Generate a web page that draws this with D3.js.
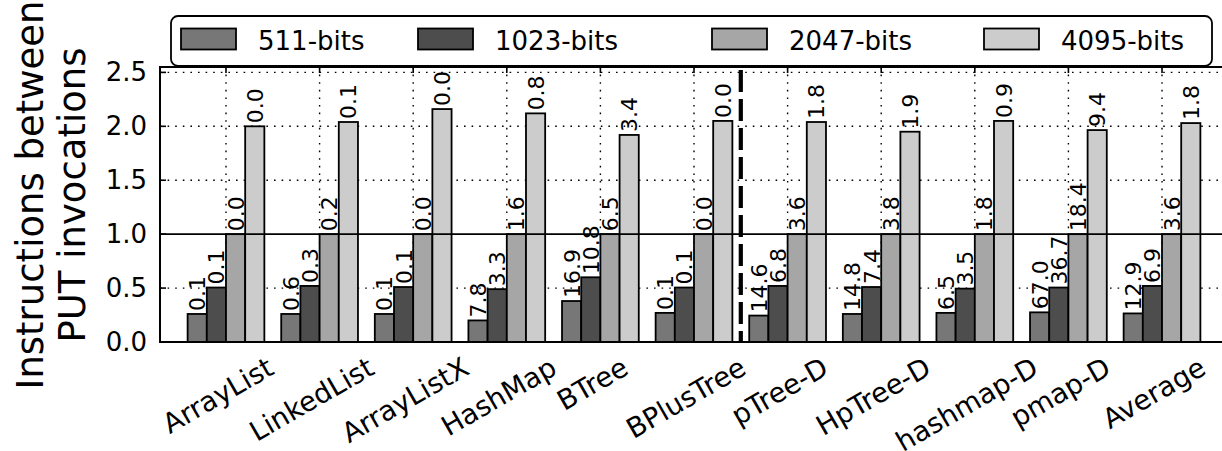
<!DOCTYPE html>
<html>
<head>
<meta charset="utf-8">
<script src="https://cdn.jsdelivr.net/npm/d3@7"></script>
<style>
  html, body { margin: 0; padding: 0; background: #fff; }
  svg { display: block; font-family: "DejaVu Sans", sans-serif; }
</style>
</head>
<body>
<svg id="chart" width="1222" height="451"></svg>
<script>
// Benchmarks on the x axis
const categories = ["ArrayList", "LinkedList", "ArrayListX", "HashMap", "BTree",
  "BPlusTree", "pTree-D", "HpTree-D", "hashmap-D", "pmap-D", "Average"];

// Key sizes (legend entries)
const seriesNames = ["511-bits", "1023-bits", "2047-bits", "4095-bits"];

// Normalised instructions between PUT invocations, per key size
const bits511  = [0.26, 0.26, 0.26, 0.20, 0.38, 0.27, 0.245, 0.26, 0.27, 0.275, 0.265];
const bits1023 = [0.505, 0.52, 0.51, 0.49, 0.60, 0.505, 0.52, 0.51, 0.495, 0.505, 0.52];
const bits2047 = [1.0, 1.0, 1.0, 1.0, 1.0, 1.0, 1.0, 1.0, 1.0, 1.0, 1.0];
const bits4095 = [2.0, 2.04, 2.16, 2.12, 1.92, 2.05, 2.04, 1.95, 2.05, 1.965, 2.03];

// Annotation printed above each bar
const labels511  = ["0.1", "0.6", "0.1", "7.8", "16.9", "0.1", "14.6", "14.8", "6.5", "67.0", "12.9"];
const labels1023 = ["0.1", "0.3", "0.1", "3.3", "10.8", "0.1", "6.8", "7.4", "3.5", "36.7", "6.9"];
const labels2047 = ["0.0", "0.2", "0.0", "1.6", "6.5", "0.0", "3.6", "3.8", "1.8", "18.4", "3.6"];
const labels4095 = ["0.0", "0.1", "0.0", "0.8", "3.4", "0.0", "1.8", "1.9", "0.9", "9.4", "1.8"];

const yTicks = [0.0, 0.5, 1.0, 1.5, 2.0, 2.5];
const yTitle = ["Instructions between", "PUT invocations"];

const series = [bits511, bits1023, bits2047, bits4095];
const seriesLabels = [labels511, labels1023, labels2047, labels4095];
const colors = ["#777777", "#4d4d4d", "#a6a6a6", "#cccccc"];

const svg = d3.select("#chart");
const pL = 160, pR = 1228, pT = 67, pB = 342;

const x = d3.scaleLinear().domain([-0.705, categories.length - 1 + 0.705]).range([pL, pR]);
const y = d3.scaleLinear().domain([0, 2.55]).range([pB, pT]);
const barW = 0.205;
const unit = x(1) - x(0);

// grid (behind the bars)
const grid = svg.append("g").attr("stroke", "#000").attr("stroke-width", 1.4)
  .attr("stroke-dasharray", "1.6,6");
grid.selectAll("line.h").data(yTicks.filter(t => t !== 0 && t !== 1))
  .join("line").attr("class", "h")
  .attr("x1", pL).attr("x2", pR)
  .attr("y1", d => y(d)).attr("y2", d => y(d));
grid.selectAll("line.v").data(categories.map((c, i) => i))
  .join("line").attr("class", "v")
  .attr("x1", d => x(d)).attr("x2", d => x(d))
  .attr("y1", pT).attr("y2", pB);

// bars
series.forEach((vals, s) => {
  const g = svg.append("g");
  g.selectAll("rect").data(vals).join("rect")
    .attr("x", (d, i) => x(i + (s - 2) * barW))
    .attr("width", barW * unit)
    .attr("y", d => y(d))
    .attr("height", d => y(0) - y(d))
    .attr("fill", colors[s])
    .attr("stroke", "#000")
    .attr("stroke-width", 1.8);
  g.selectAll("text").data(vals).join("text")
    .attr("transform", (d, i) => {
      const cx = x(i + (s - 2) * barW + barW / 2) + 8;
      return `translate(${cx},${y(d) - 3}) rotate(-90)`;
    })
    .attr("font-size", 22)
    .attr("fill", "#000")
    .text((d, i) => seriesLabels[s][i]);
});

// reference line at 1.0
svg.append("line")
  .attr("x1", pL).attr("x2", pR)
  .attr("y1", y(1)).attr("y2", y(1))
  .attr("stroke", "#000").attr("stroke-width", 1.6);

// separator between the two benchmark groups
svg.append("line")
  .attr("x1", x(5.5)).attr("x2", x(5.5))
  .attr("y1", pT + 3).attr("y2", pB)
  .attr("stroke", "#000").attr("stroke-width", 4.2)
  .attr("stroke-dasharray", "22,7");

// axes frame
svg.append("rect")
  .attr("x", pL).attr("y", pT)
  .attr("width", pR - pL).attr("height", pB - pT)
  .attr("fill", "none").attr("stroke", "#000").attr("stroke-width", 2);

// inner tick marks
const ticks = svg.append("g").attr("stroke", "#000").attr("stroke-width", 1.6);
ticks.selectAll("line.yl").data(yTicks).join("line").attr("class", "yl")
  .attr("x1", pL).attr("x2", pL + 6)
  .attr("y1", d => y(d)).attr("y2", d => y(d));
ticks.selectAll("line.xt").data(categories.map((c, i) => i)).join("line").attr("class", "xt")
  .attr("x1", d => x(d)).attr("x2", d => x(d))
  .attr("y1", pT).attr("y2", pT + 6);

// y tick labels
const yAxis = d3.axisLeft(y).tickValues(yTicks).tickFormat(d3.format(".1f")).tickSize(0).tickPadding(13);
const ya = svg.append("g").attr("transform", `translate(${pL},0)`).call(yAxis);
ya.select(".domain").remove();
ya.selectAll("text").attr("font-size", 26).attr("font-family", "DejaVu Sans").attr("fill", "#000");

// x tick labels, rotated 30 degrees; the rotated box hangs just below the axis
const fs = 27.5, asc = 0.928 * fs, desc = 0.236 * fs, lineH = asc + desc;
const ang = 30 * Math.PI / 180;
const xl = svg.append("g");
categories.forEach((c, i) => {
  const t = xl.append("text").attr("font-size", fs).attr("text-anchor", "middle").text(c);
  const w = t.node().getComputedTextLength();
  const H = w * Math.sin(ang) + lineH * Math.cos(ang);
  const cy = pB + 9 + H / 2;
  t.attr("transform", `translate(${x(i) - 8},${cy}) rotate(-30)`)
    .attr("y", (asc - desc) / 2);
});

// y axis title, two centred lines
const yt = svg.append("g").attr("transform", `translate(0,195) rotate(-90)`);
yt.selectAll("text").data(yTitle).join("text")
  .attr("x", 0).attr("y", (d, i) => 43 + i * 42)
  .attr("text-anchor", "middle").attr("font-size", 37).text(d => d);

// legend
const lg = svg.append("g");
lg.append("rect").attr("x", 171).attr("y", 16).attr("width", 1041).attr("height", 50)
  .attr("rx", 7).attr("fill", "#fff").attr("stroke", "#000").attr("stroke-width", 1.8);
const legX = [181, 418, 712, 984];
seriesNames.forEach((n, s) => {
  lg.append("rect").attr("x", legX[s]).attr("y", 28.5).attr("width", 55).attr("height", 21)
    .attr("fill", colors[s]).attr("stroke", "#000").attr("stroke-width", 1.8);
  lg.append("text").attr("x", legX[s] + 77).attr("y", 49.5).attr("font-size", 26).text(n);
});
</script>
</body>
</html>
